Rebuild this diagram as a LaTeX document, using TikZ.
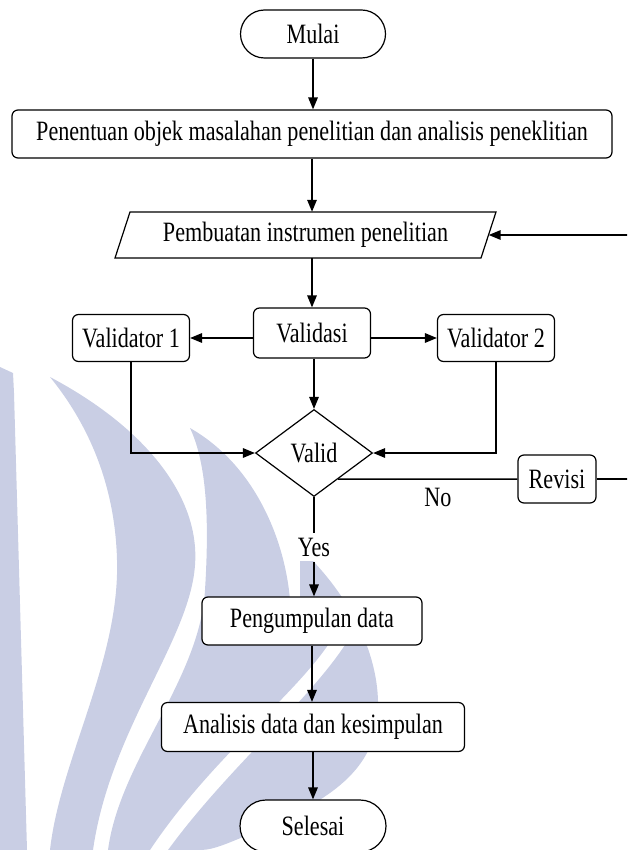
\documentclass[tikz,border=0pt]{standalone}
\usepackage{fontspec}
\setmainfont[FakeStretch=0.79]{Liberation Serif}
\usetikzlibrary{arrows.meta,shapes.geometric,shapes.misc,calc}
\definecolor{wm}{RGB}{201,206,228}
\begin{document}
\begin{tikzpicture}[x=1pt,y=-1pt,
  txt/.style={font=\fontsize{28}{32}\selectfont},
  box/.style={txt, draw=black, fill=white, line width=1.2pt, rounded corners=6pt, minimum height=48pt, inner sep=0pt},
  term/.style={txt, draw=black, fill=white, line width=1.2pt, rounded rectangle, minimum height=48pt, inner sep=0pt},
  dec/.style={txt, draw=black, fill=white, line width=1.2pt, diamond, aspect=1.34, inner sep=0pt, minimum width=117pt, minimum height=87pt},
  lbl/.style={txt, inner sep=1pt},
  ln/.style={line width=1.5pt, draw=black},
  arr/.style={ln, -{Triangle[length=12pt,width=9.5pt]}}]
\useasboundingbox (0,0) rectangle (627,850);
\clip (0,0) rectangle (627,850);
% watermark
\fill[wm] (0,367) -- (13,373) -- (14,393) -- (27,850) -- (0,850) -- cycle;
\fill[wm] (50,377) .. controls (150,430) and (200,500) .. (195,565)
  .. controls (190,640) and (110,730) .. (93,850) -- (50,850)
  .. controls (60,760) and (120,660) .. (117,560)
  .. controls (115,480) and (85,420) .. (50,377) -- cycle;
\fill[wm] (190,428) .. controls (255,465) and (285,540) .. (290,600)
  -- (328,645) .. controls (290,700) and (210,760) .. (150,850) -- (108,850)
  .. controls (120,760) and (200,680) .. (205,590)
  .. controls (210,510) and (205,460) .. (190,428) -- cycle;
\fill[wm] (300,548) .. controls (345,590) and (380,650) .. (378,710)
  .. controls (376,770) and (330,800) .. (260,830)
  .. controls (230,842) and (215,850) .. (200,850) -- (168,850)
  .. controls (228,768) and (305,705) .. (345,645) -- (300,600) -- cycle;
% nodes
\node[term, minimum width=145pt] (mulai) at (313,34) {Mulai};
\node[box, minimum width=600pt] (pen) at (312,134) {Penentuan objek masalahan penelitian dan analisis peneklitian};
\filldraw[fill=white, draw=black, line width=1.2pt] (115,258) -- (130,212) -- (496,212) -- (481,258) -- cycle;
\node[txt, inner sep=0pt, minimum width=366pt, minimum height=46pt] (pemb) at (305.5,235) {Pembuatan instrumen penelitian};
\node[box, minimum width=117pt, minimum height=50pt] (vals) at (312,333) {Validasi};
\node[box, minimum width=117pt, minimum height=47pt] (v1) at (131,338) {Validator 1};
\node[box, minimum width=117pt, minimum height=47pt] (v2) at (496,338) {Validator 2};
\node[dec] (valid) at (314,453) {Valid};
\node[box, minimum width=78pt] (rev) at (557,479) {Revisi};
\node[lbl] (no) at (438,497) {No};
\node[txt, fill=white, inner xsep=2pt, inner ysep=5pt] (yes) at (314,547) {Yes};
\node[box, minimum width=220pt] (peng) at (312,621) {Pengumpulan data};
\node[box, minimum width=303pt, minimum height=49pt] (ana) at (313,727) {Analisis data dan kesimpulan};
\node[term, minimum width=146pt, minimum height=52pt] (sel) at (313,826) {Selesai};
\coordinate (loop) at (645,0);
% connectors
\draw[arr] (mulai.south) -- (mulai.south |- pen.north);
\draw[arr] (pen.south) -- (pen.south |- pemb.north);
\draw[arr] (pemb.south -| vals.north) -- (vals.north);
\draw[arr] (vals.west |- v1.east) -- (v1.east);
\draw[arr] (vals.east |- v2.west) -- (v2.west);
\draw[arr] (vals.south -| valid.north) -- (valid.north);
\draw[arr] (v1.south) |- (valid.west);
\draw[arr] (v2.south) |- (valid.east);
\draw[ln] ($(valid.east)!0.59!(valid.south)$) -- (rev.west);
\draw[arr] (rev.east) -- (rev.east -| loop) |- (pemb.east);
\draw[ln] (valid.south) -- (yes.north);
\draw[arr] (yes.south) -- (yes.south |- peng.north);
\draw[arr] (peng.south) -- (peng.south |- ana.north);
\draw[arr] (ana.south) -- (ana.south |- sel.north);
\end{tikzpicture}
\end{document}
